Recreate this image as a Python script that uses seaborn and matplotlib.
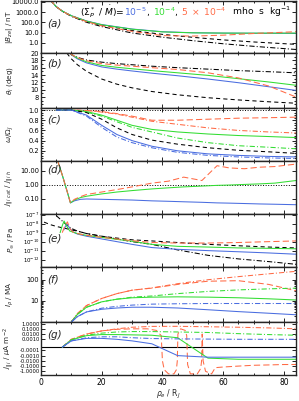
import numpy as np
import pandas as pd
import matplotlib
matplotlib.use("Agg")
import matplotlib.pyplot as plt
import seaborn as sns
from matplotlib.ticker import FixedLocator, MultipleLocator, FormatStrFormatter

sns.set_theme(style="ticks")
plt.rcParams['font.family'] = ['DejaVu Sans']
plt.rcParams['mathtext.fontset'] = 'dejavusans'

BLUE = '#4a6de0'
GREEN = '#33dd33'
RED = '#ff6a45'
K = 'black'
nan = np.nan

SOLID = '-'
DASH = (0, (6, 3))
KDASH = (0, (4, 3))
DD = (0, (5, 2, 1, 2))

# ---- panel (a): |B_ze| / nT
xa = [3, 5, 7, 10, 15, 20, 30, 40, 50, 60, 70, 84]
a_kdash = [15600, 3360, 1224, 420, 124, 52, 15.5, 6.6, 3.4, 1.9, 1.2, 0.7]
a_kdd = [15600, 3360, 1200, 380, 100, 38, 9, 3.5, 1.6, 0.8, 0.45, 0.22]
a_blue = [15600, 3400, 1260, 440, 135, 60, 22, 12, 9.5, 8.8, 8.5, 8.3]
a_green = [15600, 3400, 1250, 430, 130, 57, 21, 11.5, 9.3, 8.8, 8.7, 8.8]
a_red = [15600, 3380, 1230, 410, 115, 45, 13, 5, 4.5, 5.5, 8, 12]

# ---- panel (b): theta_i / deg
xb = [8.5, 9.5, 10, 12, 15, 20, 25, 30, 36.5, 45, 55, 65, 75, 84]
b_kdash = [20, 18.9, 18.4, 16.8, 15.0, 12.9, 11.5, 10.5, 9.5, 8.6, 7.8, 7.2, 6.7, 6.3]
b_kdd = [nan, 20, 19.6, 18.8, 18.1, 17.5, 17.1, 16.8, 16.4, 16.0, 15.6, 15.2, 14.9, 14.6]
b_blue = [nan, 20, 19.5, 18.4, 17.3, 16.2, 15.6, 15.1, 14.5, 13.8, 12.9, 11.9, 10.8, 9.8]
b_green = [nan, 20, 19.6, 18.6, 17.6, 16.6, 16.1, 15.7, 15.2, 14.6, 13.9, 13.0, 12.1, 11.2]
b_red = [nan, 20, 19.6, 18.7, 17.9, 17.1, 16.7, 16.4, 16.0, 15.5, 14.6, 13.2, 11.0, 8.0]

# ---- panel (c): omega / Omega_J
xc = [5, 10, 15, 20, 25, 30, 36.5, 45, 55, 65, 75, 84]
c_red = [1, 1, 0.99, 0.97, 0.93, 0.88, 0.80, 0.80, 0.82, 0.84, 0.85, 0.86]
c_red_dd = [1, 1, 0.99, 0.96, 0.92, 0.86, 0.78, 0.72, 0.65, 0.60, 0.57, 0.55]
c_green = [1, 1, 0.97, 0.90, 0.80, 0.70, 0.62, 0.57, 0.53, 0.50, 0.48, 0.46]
c_green_dd = [1, 1, 0.96, 0.88, 0.77, 0.66, 0.57, 0.45, 0.36, 0.30, 0.27, 0.24]
c_kdash = [1, 1, 0.95, 0.82, 0.65, 0.52, 0.41, 0.33, 0.26, 0.21, 0.18, 0.15]
c_blue = [1, 1, 0.90, 0.70, 0.52, 0.40, 0.29, 0.20, 0.14, 0.11, 0.09, 0.08]
c_blue_dd = [1, 1, 0.88, 0.66, 0.47, 0.36, 0.26, 0.17, 0.11, 0.08, 0.06, 0.05]

# ---- panel (d): current ratio
xd = [5.5, 7, 8.5, 9.7, 11, 13, 15, 20, 25, 30, 36.5, 42, 47, 53, 58, 62, 67, 72, 77, 84]
d_blue = [50, 5, 0.4, 0.05, 0.07, 0.09, 0.095, 0.09, 0.085, 0.08, 0.07, 0.065, 0.06, 0.055, 0.05, 0.048, 0.045, 0.042, 0.04, 0.037]
d_green = [50, 5, 0.4, 0.05, 0.08, 0.12, 0.15, 0.22, 0.3, 0.38, 0.5, 0.6, 0.7, 0.8, 0.9, 0.95, 1.05, 1.15, 1.3, 2.0]
d_red = [50, 5, 0.4, 0.05, 0.09, 0.14, 0.2, 0.3, 0.45, 0.7, 1.3, 1.8, 3.5, 2.0, 23, 16, 14, 18, 20, 30]

# ---- panel (e): pressure / Pa
xe = [1, 3, 5, 7, 8, 9, 10, 12, 15, 20, 25, 30, 36.5, 45, 55, 65, 75, 84]
e_kdash = [1.5e-8, 8e-9, 5e-9, 3.5e-9, 3e-9, 2.5e-9, 2e-9, 1.5e-9, 8e-10, 4e-10, 2.5e-10, 1.6e-10, 1.2e-10, 8e-11, 5e-11, 3.5e-11, 2.5e-11, 2e-11]
e_kdd = [nan, nan, 8e-8, 2e-8, 1e-8, 5e-9, 3e-9, 1.5e-9, 8e-10, 4e-10, 2e-10, 1e-10, 5e-11, 1.2e-11, 3e-12, 1.2e-12, 6e-13, 3e-13]
xe_g = [6.3, 7, 7.6, 8.5, 9.5, 12, 15, 20, 25, 30, 36.5, 45, 55, 65, 75, 84]
e_green = [1e-9, 6e-9, 2e-8, 5e-9, 1.5e-9, 8e-10, 5e-10, 3e-10, 1.8e-10, 1.1e-10, 5e-11, 3e-11, 2.5e-11, 2e-11, 1.8e-11, 1.6e-11]
xe_r = [7, 7.8, 8.7, 9.5, 10.5, 12, 15, 20, 25, 30, 36.5, 45, 55, 65, 75, 84]
e_red = [1e-9, 5e-9, 1.6e-8, 3e-9, 1.2e-9, 8e-10, 5e-10, 3e-10, 2e-10, 1.3e-10, 8e-11, 7e-11, 7e-11, 8e-11, 1e-10, 1.2e-10]
xe_b = [7.5, 8.5, 9.5, 10.5, 12, 15, 20, 25, 30, 36.5, 45, 55, 65, 75, 84]
e_blue = [2e-9, 1e-8, 3e-9, 1.2e-9, 7e-10, 4e-10, 2e-10, 1e-10, 5e-11, 2.2e-11, 1.4e-11, 1e-11, 7.5e-12, 5.5e-12, 4e-12]

# ---- panel (f): I_rho / MA
xf = [10, 12, 15, 20, 25, 30, 36.5, 45, 55, 65, 75, 84]
f_red_dd = [1, 2.5, 6, 13, 22, 32, 41, 65, 100, 140, 190, 250]
f_red = [1, 2.5, 6, 13, 22, 32, 40, 60, 85, 90, 60, 30]
f_green_dd = [1, 2.3, 5, 9, 12, 15, 17, 22, 28, 33, 37, 40]
f_green = [1, 2.3, 5, 9, 12, 14, 15, 15.5, 15, 14, 12.5, 11]
f_blue_dd = [1, 1.8, 3, 4.5, 5.5, 6.3, 7, 7.3, 7.5, 7.5, 7.5, 7.5]
f_blue = [1, 1.8, 3, 4, 4.6, 5, 5, 4.6, 3.8, 3.1, 2.6, 2.2]

# ---- panel (g): j_par / uA m^-2
xg = [7, 10, 15, 20, 25, 30, 36.5, 45, 55, 65, 75, 84]
g_red_dd = [1e-5, 1e-3, 0.01, 0.04, 0.1, 0.2, 0.29, 0.3, 0.25, 0.2, 0.15, 0.1]
g_green_dd = [1e-5, 8e-4, 0.006, 0.015, 0.025, 0.03, 0.03, 0.025, 0.02, 0.012, 0.008, 0.006]
g_green = [1e-5, 8e-4, 0.005, 0.008, 0.008, 0.007, 0.006, 0.002, -0.003, -0.005, -0.005, -0.005]
g_blue_dd = [1e-5, 5e-4, 0.002, 0.003, 0.003, 0.002, 0.0014, 0.0012, 0.0011, 0.001, 0.001, 0.001]
g_blue = [1e-5, 5e-4, 0.0015, 0.0015, 0.001, 5e-4, 1.4e-4, -0.001, -0.002, -0.002, -0.002, -0.002]
xg_red = [7, 10, 15, 20, 25, 30, 35, 38, 39.6, 40.0, 40.6, 42, 43.8, 44.6, 44.9, 45.1, 46, 47.5, 48.0, 48.3,
          49.2, 51.5, 52.6, 52.9, 53.1, 53.4, 54.2, 56.2, 57.0, 57.4, 60, 65, 70, 75, 80, 84]
g_red = [1e-5, 1e-3, 0.01, 0.04, 0.08, 0.1, 0.1, 0.05, 0.005, -0.01, -0.5, -3, -3, -0.5, -0.01, 0.01, 0.1, 0.05,
         0.005, -0.05, -3, -3, -0.3, -0.01, 0.01, -0.01, -1, -3, -0.5, -0.2, -0.15, -0.1, -0.07, -0.06, -0.05, -0.05]

W, H = 299, 401
L, R = 41, 296
bounds = [(1, 53), (53, 108), (108, 161), (161, 214), (214, 267), (267, 322), (322, 375)]

fig = plt.figure(figsize=(W / 100, H / 100), dpi=100)
axes = [fig.add_axes([L / W, 1 - b / H, (R - L) / W, (b - t) / H]) for t, b in bounds]


def line(ax, x, y, color, ls, lw=0.75):
    df = pd.DataFrame({'x': x, 'y': y}).dropna()
    sns.lineplot(data=df, x='x', y='y', ax=ax, color=color, linestyle=ls, lw=lw,
                 sort=False, estimator=None)


ax = axes[0]
line(ax, xa, a_kdash, K, KDASH)
line(ax, xa, a_kdd, K, DD)
line(ax, xa, a_blue, BLUE, SOLID)
line(ax, xa, a_green, GREEN, SOLID)
line(ax, xa, a_red, RED, DASH)
ax.set_yscale('log')
ax.set_ylim(0.1, 1.2e4)
ax.yaxis.set_major_locator(FixedLocator([1, 10, 100, 1000, 10000]))
ax.yaxis.set_major_formatter(FormatStrFormatter('%.1f'))

ax = axes[1]
line(ax, xb, b_kdash, K, KDASH)
line(ax, xb, b_kdd, K, DD)
line(ax, xb, b_blue, BLUE, SOLID)
line(ax, xb, b_green, GREEN, SOLID)
line(ax, xb, b_red, RED, DASH)
ax.set_ylim(5, 20)
ax.yaxis.set_major_locator(FixedLocator([8, 10, 12, 14, 16, 18, 20]))
ax.yaxis.set_minor_locator(MultipleLocator(1))
ax.yaxis.set_major_formatter(FormatStrFormatter('%d'))

ax = axes[2]
ax.axhline(1.0, color=K, ls=':', lw=0.7)
line(ax, xc, c_red, RED, DASH)
line(ax, xc, c_red_dd, RED, DD)
line(ax, xc, c_green, GREEN, SOLID)
line(ax, xc, c_green_dd, GREEN, DD)
line(ax, xc, c_kdash, K, KDASH)
line(ax, xc, c_blue, BLUE, SOLID)
line(ax, xc, c_blue_dd, BLUE, DD)
ax.set_ylim(0, 1.04)
ax.yaxis.set_major_locator(FixedLocator([0.2, 0.4, 0.6, 0.8, 1.0]))
ax.yaxis.set_minor_locator(MultipleLocator(0.05))
ax.yaxis.set_major_formatter(FormatStrFormatter('%.1f'))

ax = axes[3]
ax.axhline(1.0, color=K, ls=':', lw=0.7)
line(ax, xd, d_blue, BLUE, SOLID)
line(ax, xd, d_green, GREEN, SOLID)
line(ax, xd, d_red, RED, DASH)
ax.set_yscale('log')
ax.set_ylim(0.008, 50)
ax.yaxis.set_major_locator(FixedLocator([0.1, 1, 10]))
ax.yaxis.set_major_formatter(FormatStrFormatter('%.2f'))

ax = axes[4]
line(ax, xe, e_kdash, K, KDASH)
line(ax, xe, e_kdd, K, DD)
line(ax, xe_b, e_blue, BLUE, SOLID)
line(ax, xe_g, e_green, GREEN, SOLID)
line(ax, xe_r, e_red, RED, DASH)
ax.set_yscale('log')
ax.set_ylim(1.5e-13, 1.2e-7)
ax.yaxis.set_major_locator(FixedLocator([1e-12, 1e-11, 1e-10, 1e-9, 1e-8, 1e-7]))

ax = axes[5]
line(ax, xf, f_red_dd, RED, DD)
line(ax, xf, f_red, RED, DASH)
line(ax, xf, f_green_dd, GREEN, DD)
line(ax, xf, f_green, GREEN, SOLID)
line(ax, xf, f_blue_dd, BLUE, DD)
line(ax, xf, f_blue, BLUE, SOLID)
ax.set_yscale('log')
ax.set_ylim(1, 400)
ax.yaxis.set_major_locator(FixedLocator([10, 100]))
ax.yaxis.set_major_formatter(FormatStrFormatter('%d'))

ax = axes[6]
ax.axhline(0, color=K, lw=0.8)
line(ax, xg, g_red_dd, RED, DD)
line(ax, xg_red, g_red, RED, DASH)
line(ax, xg, g_green_dd, GREEN, DD)
line(ax, xg, g_green, GREEN, SOLID)
line(ax, xg, g_blue_dd, BLUE, DD)
line(ax, xg, g_blue, BLUE, SOLID)
ax.set_yscale('symlog', linthresh=1e-4, linscale=0.5)
ax.set_ylim(-5, 2)
ax.yaxis.set_major_locator(FixedLocator([1, 0.1, 0.01, 0.001, -1e-4, -1e-3, -0.01, -0.1, -1]))
ax.yaxis.set_minor_locator(FixedLocator([]))
ax.yaxis.set_major_formatter(FormatStrFormatter('%.4f'))

ylabels = [r'$|B_{ze}|$ / nT', r'$\theta_i$ (deg)', r'$\omega/\Omega_J$',
           r'$j_{\|i\ cat}$ / $j_{\|i\ h}$', r'$P_{\infty}$ / Pa', r'$I_\rho$ / MA',
           r'$j_{\|i}$ / $\mu$A m$^{-2}$']
letters = ['(a)', '(b)', '(c)', '(d)', '(e)', '(f)', '(g)']
letter_y = [23, 64, 120, 170, 239, 280, 335]

for i, ax in enumerate(axes):
    ax.set_xlim(0, 84)
    ax.xaxis.set_major_locator(MultipleLocator(20))
    ax.xaxis.set_minor_locator(MultipleLocator(5))
    ax.tick_params(which='both', direction='in', top=True, right=True, width=0.6,
                   labelsize=4.8, pad=1.5, colors=K)
    ax.tick_params(which='major', length=3)
    ax.tick_params(which='minor', length=1.6)
    for s in ax.spines.values():
        s.set_linewidth(1.0)
    ax.set_xlabel('')
    ax.set_ylabel(ylabels[i], fontsize=5.2, labelpad=0)
    ax.yaxis.set_label_coords(-0.1, 0.5)
    if i < 6:
        ax.tick_params(axis='x', labelbottom=False)
    fig.text(47 / W, 1 - letter_y[i] / H, letters[i], fontsize=7.5, style='italic',
             va='center', ha='left')

axes[4].tick_params(axis='y', which='major', labelsize=3.9, pad=1)
axes[6].tick_params(axis='y', which='major', labelsize=3.7, pad=1)
axes[6].set_xlabel(r'$\rho_e$ / R$_J$', fontsize=5.5, labelpad=0.5)
axes[6].tick_params(axis='x', labelsize=5.5, pad=2.5)

# coloured heading inside panel (a)
fig.canvas.draw()
rend = fig.canvas.get_renderer()
parts = [(r'$(\Sigma_P^*\ /\ \dot{M})$=', K), (r'$10^{-5}$', BLUE), (', ', K),
         (r'$10^{-4}$', GREEN), (', ', K), (r'$5\ \times\ 10^{-4}$', RED),
         (r'  mho  s  kg$^{-1}$', K)]
xp = 80
for s, c in parts:
    t = fig.text(xp / W, 1 - 12 / H, s, color=c, fontsize=6.6, va='center', ha='left')
    xp += t.get_window_extent(renderer=rend).width

fig.savefig('out.png', dpi=100)
